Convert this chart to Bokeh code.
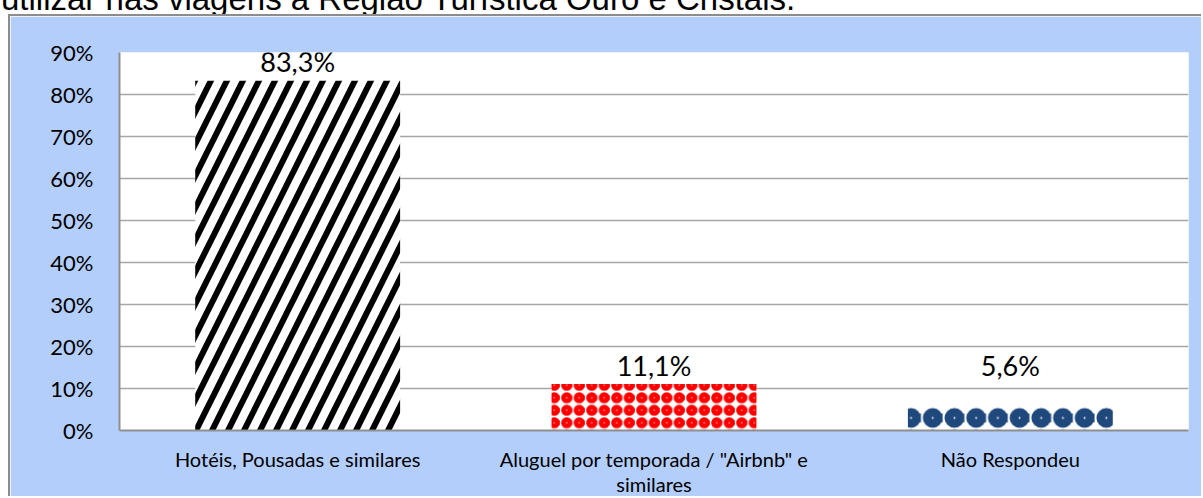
from bokeh.plotting import figure
from bokeh.models import Range1d, FixedTicker, NumeralTickFormatter, ColumnDataSource, Div, FactorRange
from bokeh.layouts import column
from bokeh.embed import file_html
from bokeh.resources import INLINE
from bokeh.core.properties import value

# ---- data ----
categories = [
    "Hotéis, Pousadas e similares",
    "Aluguel por temporada / \"Airbnb\" e\nsimilares",
    "Não Respondeu",
]
shares = [0.833, 0.111, 0.056]
y_ticks = [0.0, 0.1, 0.2, 0.3, 0.4, 0.5, 0.6, 0.7, 0.8, 0.9]
title_text = "utilizar nas viagens à Região Turística Ouro e Cristais."

# ---- styles ----
PANEL = "#B3CEFA"
BORDER = "#8C8C8C"
GRID = "#A6A6A6"
LABEL_FONT = "Lato"
LABEL_FLOOR = 0.111
LABEL_GAP = 0.021
hatch_patterns = ["/", "o", "o"]
hatch_colors = ["#000000", "#FF0000", "#1F497D"]
hatch_scales = [32, 12.5, 21.7]
hatch_weights = [6, 5, 9]

title_html = (
    '<div style="position:relative;top:-18px;left:1px;height:32px;width:1150px;overflow:hidden;">'
    '<div style="font-family:\'Liberation Sans\',Arial,sans-serif;'
    'font-size:33px;line-height:33px;white-space:nowrap;color:#000;">'
    + title_text + '</div></div>'
)
title_div = Div(text=title_html, width=1203, height=14, margin=(0, 0, 0, 0),
                styles={"overflow": "visible"})

p = figure(
    x_range=FactorRange(factors=categories),
    y_range=Range1d(0, 0.9),
    width=1193, height=482, margin=(0, 0, 0, 8),
    output_backend="svg", toolbar_location=None,
    min_border_left=109, min_border_right=15, min_border_top=36, min_border_bottom=63,
    border_fill_color=PANEL, background_fill_color="white",
    outline_line_color=None,
    styles={"border-left": "2px solid " + BORDER, "border-top": "2px solid " + BORDER},
)

for i, cat in enumerate(categories):
    src = ColumnDataSource(dict(x=[cat], top=[shares[i]]))
    p.vbar(x="x", top="top", width=0.575, source=src,
           fill_color="white", line_color=None,
           hatch_pattern=hatch_patterns[i], hatch_color=hatch_colors[i],
           hatch_scale=hatch_scales[i], hatch_weight=hatch_weights[i])

label_src = ColumnDataSource(dict(
    x=categories,
    y=[max(v, LABEL_FLOOR) + LABEL_GAP for v in shares],
    text=[("%.1f%%" % (v * 100)).replace(".", ",") for v in shares],
))
p.text(x="x", y="y", text="text", source=label_src,
       text_align="center", text_baseline="alphabetic", y_offset=-10,
       text_font=value(LABEL_FONT), text_font_size="27px", text_color="#000000")

# y axis
p.yaxis.ticker = FixedTicker(ticks=y_ticks)
p.yaxis.formatter = NumeralTickFormatter(format="0%")
p.yaxis.major_label_text_font = LABEL_FONT
p.yaxis.major_label_text_font_size = "22px"
p.yaxis.major_label_text_color = "#000000"
p.yaxis.major_label_standoff = 26

# x axis
p.xaxis.major_label_text_font = LABEL_FONT
p.xaxis.major_label_text_font_size = "20px"
p.xaxis.major_label_text_color = "#000000"
p.xaxis.major_label_text_line_height = 1.05
p.xaxis.major_label_standoff = 16

for ax in (p.xaxis, p.yaxis):
    ax.axis_line_color = "#8F8F8F"
    ax.axis_line_width = 2
    ax.major_tick_line_color = None
    ax.minor_tick_line_color = None
    ax.major_tick_out = 0
    ax.major_tick_in = 0
    ax.minor_tick_out = 0
    ax.minor_tick_in = 0

p.xgrid.grid_line_color = None
p.ygrid.ticker = FixedTicker(ticks=y_ticks)
p.ygrid.grid_line_color = GRID
p.ygrid.grid_line_width = 1.5

layout = column(title_div, p, spacing=0, margin=(0, 0, 0, 0))
open("out.html", "w").write(file_html(layout, INLINE))
